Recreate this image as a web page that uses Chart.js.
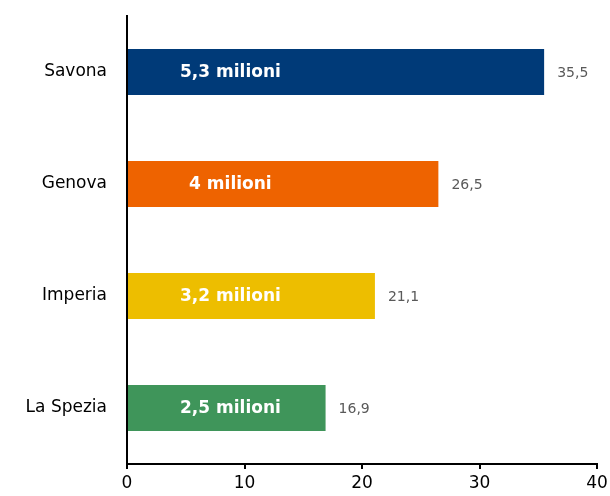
<!DOCTYPE html>
<html>
<head>
<meta charset="utf-8">
<script src="https://cdn.jsdelivr.net/npm/chart.js@4.4.1/dist/chart.umd.min.js"></script>
<style>
  html, body { margin: 0; padding: 0; background: #fff; }
  #chart { display: block; }
</style>
</head>
<body>
<canvas id="chart" width="610" height="496"></canvas>
<script>
// provinces and values
const provinces = ['Savona', 'Genova', 'Imperia', 'La Spezia'];
const values = [35.5, 26.5, 21.1, 16.9];
const innerLabels = ['5,3 milioni', '4 milioni', '3,2 milioni', '2,5 milioni'];
const barColors = ['#003A78', '#EE6300', '#EDBE00', '#3F955A'];
const xTicks = [0, 10, 20, 30, 40];

const fontFamily = "'DejaVu Sans', sans-serif";

// labels inside and after bars
const barLabels = {
  id: 'barLabels',
  afterDatasetsDraw(chart) {
    const ctx = chart.ctx;
    const meta = chart.getDatasetMeta(0);
    const x = chart.scales.x;
    ctx.save();
    ctx.textBaseline = 'middle';
    meta.data.forEach((bar, i) => {
      // inner label
      ctx.fillStyle = '#ffffff';
      ctx.font = 'bold 17px ' + fontFamily;
      ctx.textAlign = 'center';
      ctx.fillText(innerLabels[i], x.getPixelForValue(8.8), bar.y + 1);
      // value label
      ctx.fillStyle = '#595959';
      ctx.font = '14px ' + fontFamily;
      ctx.textAlign = 'left';
      ctx.fillText(values[i].toFixed(1).replace('.', ','), bar.x + 13, bar.y + 1);
    });
    ctx.restore();
  }
};

new Chart(document.getElementById('chart'), {
  type: 'bar',
  data: {
    labels: provinces,
    datasets: [{
      data: values,
      backgroundColor: barColors,
      borderWidth: 0,
      barPercentage: 0.41,
      categoryPercentage: 1
    }]
  },
  options: {
    indexAxis: 'y',
    responsive: false,
    animation: false,
    layout: { padding: { top: 16, right: 13, left: 0, bottom: 0 } },
    plugins: {
      legend: { display: false },
      tooltip: { enabled: false }
    },
    scales: {
      x: {
        min: 0,
        max: 40,
        afterBuildTicks: (scale) => { scale.ticks = xTicks.map(v => ({ value: v })); },
        afterFit: (scale) => {
          scale.height = 32;
          scale.paddingRight = 0;
          scale.paddingLeft = 0;
        },
        border: { display: true, color: '#000', width: 2 },
        grid: { drawOnChartArea: false, color: '#000', lineWidth: 2, tickLength: 5 },
        ticks: { color: '#000', font: { family: fontFamily, size: 17 }, padding: 4, maxRotation: 0 }
      },
      y: {
        afterFit: (scale) => {
          scale.width = 127;
          scale.paddingTop = 0;
          scale.paddingBottom = 0;
        },
        border: { display: true, color: '#000', width: 2 },
        grid: { display: false },
        ticks: { color: '#000', font: { family: fontFamily, size: 17 }, padding: 12 }
      }
    }
  },
  plugins: [barLabels]
});
</script>
</body>
</html>
